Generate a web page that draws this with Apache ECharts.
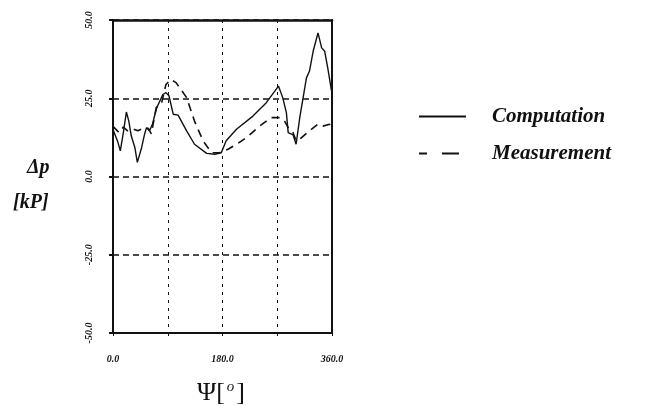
<!DOCTYPE html>
<html><head><meta charset="utf-8">
<script src="https://cdn.jsdelivr.net/npm/echarts@6/dist/echarts.min.js"></script>
<style>html,body{margin:0;padding:0;background:#fff}#c{width:646px;height:406px}</style>
</head><body><div id="c"></div>
<script>
const computationX = [0,3,8,12,17,22,26,30,36,40,47,52,55,60,65,69,72,77,82,87,92,99,107,121,134,154,167,178,186,203,230,252,272,279,285,288,296,301,307,318,323,329,337,343,348,353,357,359,360];
const computationY = [15,15.6,11,8.2,14,20.6,17.7,13,9.2,4.5,9.2,13.6,15.6,14.6,16.8,19.9,22,24.1,26.2,26.8,25.8,19.9,19.6,14.6,10.3,7.4,7.1,7.6,11.4,15.1,19.3,23.6,28.9,25.2,20.4,14,13.3,10.3,18.8,31.5,33.7,40,45.9,41.1,40,34.7,30,27.5,28.3];
const measurementX = [0,3,10,17,24,33,41,49,58,63,71,80,87,96,104,121,134,148,162,175,189,203,219,241,260,274,282,288,296,301,310,323,337,345,356,360];
const measurementY = [16,15.6,14,15.8,14.6,15.2,14.6,15.4,15.4,13.6,22,23.6,29.4,31,29.9,25.2,17.7,11.4,7.6,7.6,8.7,10.3,12.4,16.1,18.8,18.8,17.7,15.6,14,11.4,12.4,14.6,16.7,16.1,16.7,15.1];
const xTickLabels = {0:'0.0',180:'180.0',360:'360.0'};
const yTickLabels = {'-50':'-50.0','-25':'-25.0','0':'0.0','25':'25.0','50':'50.0'};
const seriesNames = ['Computation','Measurement'];

const zip = (a,b)=>a.map((v,i)=>[v,b[i]]);
const font = 'Liberation Serif';
const chart = echarts.init(document.getElementById('c'), null, {renderer:'canvas'});
chart.setOption({
  animation:false,
  backgroundColor:'#fff',
  grid:{left:113,top:20,width:219,height:313,containLabel:false},
  xAxis:[{
    type:'value',min:0,max:360,interval:90,
    axisLine:{show:true,onZero:false,lineStyle:{color:'#111',width:2}},
    axisTick:{show:true,length:3,lineStyle:{color:'#111'}},
    axisLabel:{margin:21,color:'#111',fontFamily:font,fontStyle:'italic',fontWeight:'bold',fontSize:10,
      formatter:v=>xTickLabels[v]||''},
    splitLine:{show:true,lineStyle:{color:'#111',width:1,type:[3,5]}}
  },{
    type:'value',min:0,max:360,position:'top',
    axisLine:{show:true,onZero:false,lineStyle:{color:'#111',width:2.5}},
    axisTick:{show:false},axisLabel:{show:false},splitLine:{show:false}
  }],
  yAxis:[{
    type:'value',min:-50,max:50,interval:25,
    axisLine:{show:true,onZero:false,lineStyle:{color:'#111',width:2}},
    axisTick:{show:true,length:4,inside:false,lineStyle:{color:'#111',width:2}},
    axisLabel:{rotate:90,margin:19,color:'#111',fontFamily:font,fontStyle:'italic',fontWeight:'bold',fontSize:10,
      formatter:v=>yTickLabels[String(v)]||''},
    splitLine:{show:true,lineStyle:{color:'#111',width:1.6,type:[6,4]}}
  },{
    type:'value',min:-50,max:50,position:'right',
    axisLine:{show:true,onZero:false,lineStyle:{color:'#111',width:2}},
    axisTick:{show:false},axisLabel:{show:false},splitLine:{show:false}
  }],
  legend:{
    orient:'vertical',left:413,top:101,itemWidth:47,itemHeight:14,itemGap:16,
    itemStyle:{opacity:0},
    textStyle:{color:'#111',fontFamily:font,fontStyle:'italic',fontWeight:'bold',fontSize:21,padding:[0,0,0,21]},
    data:[{name:seriesNames[0]},{name:seriesNames[1],lineStyle:{type:[8,15,17,10]}}]
  },
  series:[{
    name:seriesNames[0],type:'line',data:zip(computationX,computationY),
    symbol:'none',showSymbol:false,
    lineStyle:{color:'#111',width:1.4},itemStyle:{color:'#111'}
  },{
    name:seriesNames[1],type:'line',data:zip(measurementX,measurementY),
    symbol:'none',showSymbol:false,
    lineStyle:{color:'#111',width:1.6,type:[8,6]},itemStyle:{color:'#111'}
  }],
  graphic:[
    {type:'text',left:27,top:158,style:{text:'Δp',fill:'#111',font:'italic bold 20px "Liberation Serif"'}},
    {type:'text',left:13,top:193,style:{text:'[kP]',fill:'#111',font:'italic bold 20px "Liberation Serif"'}},
    {type:'text',left:197,top:380,style:{text:'Ψ[{s|o}]',fill:'#111',font:'26px "Liberation Serif"',
      rich:{s:{fontFamily:font,fontStyle:'italic',fontSize:15,verticalAlign:'top',padding:[0,2,9,2]}}}}
  ]
});
</script></body></html>
